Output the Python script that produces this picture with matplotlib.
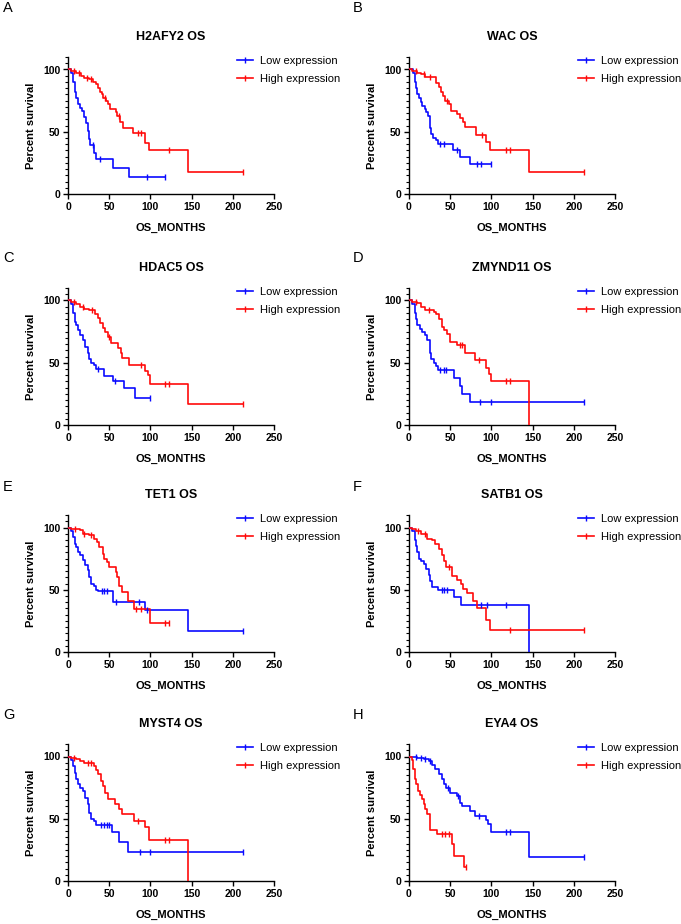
import numpy as np
import matplotlib
matplotlib.use("Agg")
import matplotlib.pyplot as plt
from matplotlib.ticker import MultipleLocator

plt.rcParams['font.family'] = ['Liberation Sans', 'DejaVu Sans']

# ---- data: event times, survival after each event, censor times ----
titles = ["H2AFY2 OS", "WAC OS", "HDAC5 OS", "ZMYND11 OS",
          "TET1 OS", "SATB1 OS", "MYST4 OS", "EYA4 OS"]
letters = ["A", "B", "C", "D", "E", "F", "G", "H"]

a_low_t = [4, 6, 8, 10, 12, 14, 17, 20, 22, 24, 26, 27, 32, 34, 55, 74]
a_low_s = [97, 90, 82, 77, 72, 69, 67, 62, 57, 51, 44, 39, 33, 28, 21, 14]
a_low_c = [30, 39, 96, 118]
a_high_t = [4, 10, 16, 20, 26, 30, 34, 37, 39, 41, 43, 46, 49, 51, 58, 60, 63, 67, 79, 93, 98, 146]
a_high_s = [99, 97, 95, 93, 92, 90, 88, 85, 82, 80, 77, 75, 72, 68, 66, 63, 58, 53, 49, 41, 35, 17.5]
a_high_c = [7, 13, 23, 28, 45, 62, 85, 88, 122, 212]

b_low_t = [5, 7, 8, 10, 12, 14, 16, 19, 21, 23, 25, 26, 27, 29, 33, 35, 54, 62, 74]
b_low_s = [97, 90, 85, 80, 77, 74, 71, 68, 66, 63, 58, 53, 48, 45, 43, 40.5, 35.5, 29.5, 24]
b_low_c = [38, 43, 58, 82, 87, 100]
b_high_t = [4, 10, 15, 20, 33, 36, 39, 41, 44, 48, 51, 58, 62, 65, 68, 81, 94, 98, 146]
b_high_s = [99, 97, 96, 94, 89, 86, 82, 79, 75, 72, 67, 64, 61, 58, 54, 47.5, 42, 35, 17.5]
b_high_c = [8, 18, 25, 46, 88, 118, 123, 212]

c_low_t = [4, 6, 8, 10, 12, 15, 18, 21, 24, 26, 28, 31, 34, 44, 55, 68, 81]
c_low_s = [97, 90, 83, 80, 76, 72, 68, 63, 58, 53, 50, 48, 45, 39.5, 35.5, 29.5, 22]
c_low_c = [36, 57, 100]
c_high_t = [4, 10, 15, 20, 25, 33, 36, 39, 42, 45, 48, 52, 61, 64, 66, 74, 93, 97, 100, 146]
c_high_s = [99, 97, 95, 93, 92, 89, 86, 82, 78, 75, 71, 66, 62, 58, 54, 48, 43, 40, 33, 16.5]
c_high_c = [7, 18, 29, 50, 88, 118, 123, 212]

d_low_t = [4, 7, 8, 10, 13, 16, 20, 22, 25, 26, 27, 30, 33, 35, 55, 62, 64, 74]
d_low_s = [97, 90, 85, 80, 77, 75, 72, 68, 63, 58, 53, 50, 47, 44.5, 37.5, 31, 25, 18.5]
d_low_c = [38, 42, 45, 86, 99, 212]
d_high_t = [4, 10, 15, 20, 30, 33, 37, 40, 43, 46, 50, 58, 68, 80, 93, 97, 100, 146]
d_high_s = [99, 98, 95, 92, 91, 89, 85, 79, 76, 73, 67, 64, 58, 52, 46, 41, 35.5, 0]
d_high_c = [8, 24, 62, 64, 85, 118, 123]

e_low_t = [4, 6, 8, 10, 12, 15, 18, 21, 24, 26, 28, 31, 34, 36, 55, 93, 146]
e_low_s = [97, 92, 87, 84, 80, 78, 74, 70, 66, 60, 55, 53, 50, 49, 40, 33.5, 17]
e_low_c = [41, 44, 47, 58, 86, 96, 212]
e_high_t = [4, 14, 18, 25, 32, 35, 38, 42, 44, 47, 50, 58, 60, 62, 65, 73, 80, 99]
e_high_s = [99, 98, 95, 94, 91, 88, 84, 79, 75, 72, 68, 64, 60, 53, 48, 41, 34.5, 23]
e_high_c = [9, 20, 28, 83, 88, 118, 122]

f_low_t = [4, 7, 8, 10, 12, 15, 18, 21, 24, 26, 28, 35, 55, 63, 146]
f_low_s = [97, 90, 85, 80, 75, 73, 71, 67, 62, 57, 52, 49.5, 44, 37.5, 0]
f_low_c = [40, 43, 46, 87, 95, 118]
f_high_t = [4, 8, 15, 22, 28, 32, 36, 40, 42, 45, 52, 58, 63, 66, 70, 78, 82, 93, 98]
f_high_s = [99, 97, 95, 91, 90, 87, 83, 78, 73, 68, 61, 58, 55, 51, 47, 41, 35.5, 26, 17.5]
f_high_c = [11, 19, 48, 122, 212]

g_low_t = [4, 6, 8, 10, 12, 15, 18, 21, 24, 26, 28, 32, 34, 54, 62, 73]
g_low_s = [97, 92, 87, 82, 78, 75, 72, 67, 62, 55, 50, 48, 45, 39, 31, 23.5]
g_low_c = [40, 44, 47, 50, 87, 99, 212]
g_high_t = [4, 10, 15, 20, 31, 34, 37, 40, 43, 45, 49, 57, 62, 66, 80, 93, 98, 146]
g_high_s = [99, 98, 96, 94.5, 92, 89, 86, 80, 76, 71, 66, 62, 58, 53.5, 48.5, 43, 33, 0]
g_high_c = [7, 24, 28, 85, 118, 123]

h_low_t = [4, 10, 18, 24, 28, 32, 36, 40, 42, 45, 50, 58, 62, 64, 74, 80, 93, 96, 99, 146]
h_low_s = [99.5, 99, 98, 96, 93, 90, 86, 82, 78, 75, 71, 68, 63, 60, 56, 52, 49, 45.5, 39, 19.5]
h_low_c = [8, 14, 20, 26, 47, 60, 85, 118, 123, 212]
h_high_t = [4, 5, 7, 9, 11, 13, 16, 18, 20, 22, 25, 26, 34, 52, 55, 67]
h_high_s = [97, 90, 82, 78, 72, 69, 66, 62, 58, 54, 47, 41, 37.5, 30, 20, 11]
h_high_c = [40, 44, 48, 69]

panels = [
    (a_low_t, a_low_s, a_low_c, a_high_t, a_high_s, a_high_c),
    (b_low_t, b_low_s, b_low_c, b_high_t, b_high_s, b_high_c),
    (c_low_t, c_low_s, c_low_c, c_high_t, c_high_s, c_high_c),
    (d_low_t, d_low_s, d_low_c, d_high_t, d_high_s, d_high_c),
    (e_low_t, e_low_s, e_low_c, e_high_t, e_high_s, e_high_c),
    (f_low_t, f_low_s, f_low_c, f_high_t, f_high_s, f_high_c),
    (g_low_t, g_low_s, g_low_c, g_high_t, g_high_s, g_high_c),
    (h_low_t, h_low_s, h_low_c, h_high_t, h_high_s, h_high_c),
]


def km_curve(ax, t, s, c, color, label):
    t = np.array(t, float)
    s = np.array(s, float)
    c = np.array(c, float)
    end = max(t[-1], c.max()) if len(c) else t[-1]
    xs = np.concatenate([[0], t, [end]])
    ys = np.concatenate([[100], s, [s[-1]]])
    ax.step(xs, ys, where='post', color=color, lw=1.2, zorder=3)
    # censor ticks sit on the curve
    idx = np.searchsorted(t, c, side='right')
    cs = np.concatenate([[100], s])[idx]
    ax.plot(c, cs, ls='none', marker='|', ms=4, mew=1.0, color=color, zorder=4)
    ax.plot([], [], color=color, lw=1.2, marker='|', ms=4, mew=1.0, label=label)


W, H = 681, 924
fig = plt.figure(figsize=(W / 100, H / 100), dpi=100)

col_left = [68, 409]
row_zero = [194, 425, 652, 881]      # pixel y of the 0 line
unit = 124.5                          # pixels for 0..100
ax_w = 206

for i, (lt, ls_, lc, ht, hs, hc) in enumerate(panels):
    r, col = divmod(i, 2)
    x0 = col_left[col]
    y0 = row_zero[r]
    h = unit * 1.1
    ax = fig.add_axes([x0 / W, 1 - y0 / H, ax_w / W, h / H])

    km_curve(ax, lt, ls_, lc, '#0a0aff', 'Low expression')
    km_curve(ax, ht, hs, hc, '#ff0a0a', 'High expression')

    ax.set_xlim(0, 250)
    ax.set_ylim(0, 110)
    ax.set_xticks([0, 50, 100, 150, 200, 250])
    ax.set_yticks([0, 50, 100])
    ax.yaxis.set_minor_locator(MultipleLocator(5))
    for sp in ['top', 'right']:
        ax.spines[sp].set_visible(False)
    for sp in ['left', 'bottom']:
        ax.spines[sp].set_linewidth(1.0)
    ax.tick_params(which='major', length=3.5, width=1.0, labelsize=7.5, pad=2)
    ax.tick_params(which='minor', length=2, width=0.8)
    for lab in ax.get_xticklabels() + ax.get_yticklabels():
        lab.set_fontweight('bold')

    ax.set_title(titles[i], fontsize=9, fontweight='bold', pad=12)
    ax.set_xlabel("OS_MONTHS", fontsize=8, fontweight='bold', labelpad=8)
    ax.set_ylabel("Percent survival", fontsize=8, fontweight='bold', labelpad=5)

    ax.legend(loc='upper left', bbox_to_anchor=(0.82, 1.005), frameon=False,
              fontsize=8, handlelength=1.45, handletextpad=0.65,
              labelspacing=0.7, borderpad=0, borderaxespad=0)

    lx = 3 if col == 0 else 353
    ly = [8, 258, 487, 715][r]
    fig.text(lx / W, 1 - ly / H, letters[i], fontsize=10.5, va='center', ha='left')

fig.savefig("out.png", dpi=100)
